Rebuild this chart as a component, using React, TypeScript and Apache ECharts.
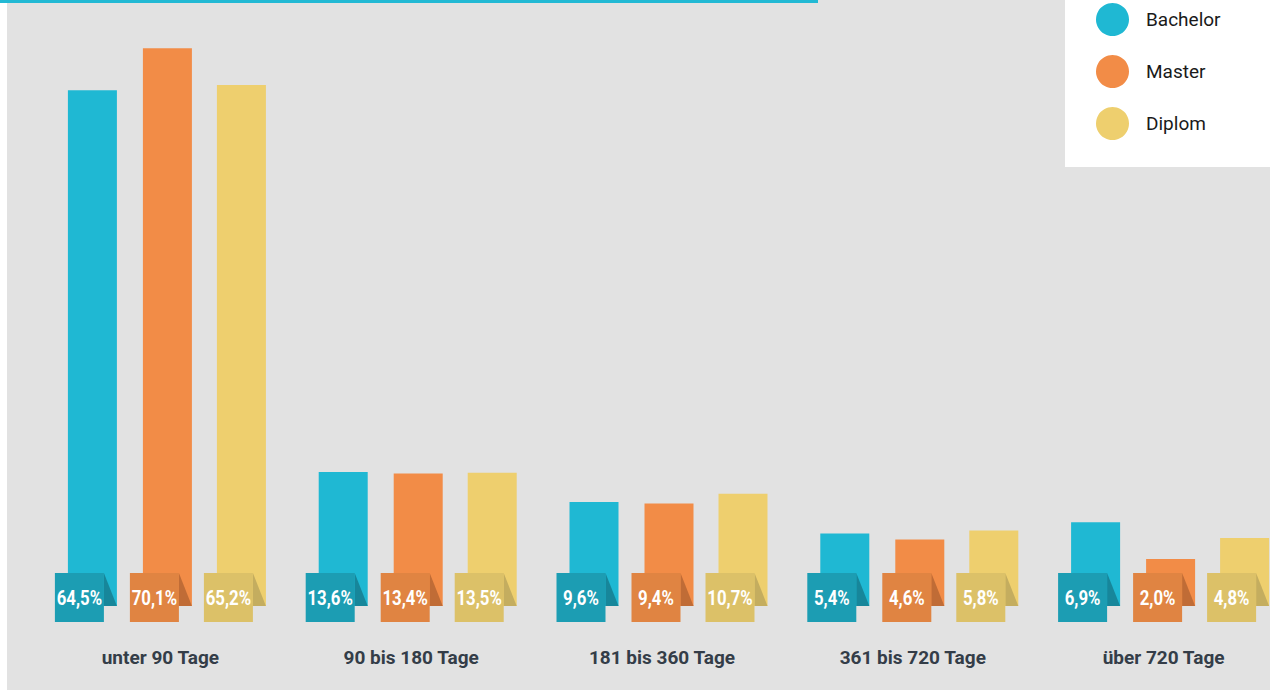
import React, { useEffect, useRef } from "react";
import * as echarts from "echarts";

const categories = ["unter 90 Tage", "90 bis 180 Tage", "181 bis 360 Tage", "361 bis 720 Tage", "über 720 Tage"];
const seriesNames = ["Bachelor", "Master", "Diplom"];
const bachelor = [64.5, 13.6, 9.6, 5.4, 6.9];
const master = [70.1, 13.4, 9.4, 4.6, 2.0];
const diplom = [65.2, 13.5, 10.7, 5.8, 4.8];

const barColors = ["#1fb8d3", "#f28c47", "#eecf6e"];
const boxColors = ["#1c9db3", "#e08442", "#dcc168"];
const foldColors = ["#17869a", "#c06c36", "#c4ad5f"];
const barOffsets = [-68, 7, 81];

const FONT = "Roboto, 'DejaVu Sans Condensed', sans-serif";

function fmt(v: number) {
  return v.toFixed(1).replace(".", ",") + "%";
}

export default function App() {
  const ref = useRef<HTMLDivElement>(null);
  useEffect(() => {
    if (!ref.current) return;
    const chart = echarts.init(ref.current, null, { renderer: "svg" });
    const allData = [bachelor, master, diplom];
    const renderItem = (params: any, api: any) => {
      const idx = params.seriesIndex;
      const cat = api.value(0);
      const val = api.value(1);
      const top = api.coord([cat, val]);
      const base = api.coord([cat, 0]);
      const cx = base[0] + barOffsets[idx];
      const barW = 49;
      const barLeft = cx - barW / 2;
      const barRight = cx + barW / 2;
      const barBottom = base[1] + 32;
      const boxLeft = barLeft - 13;
      const boxSize = 49;
      const boxRight = boxLeft + boxSize;
      const boxTop = base[1] - 1;
      return {
        type: "group",
        children: [
          {
            type: "rect",
            shape: { x: barLeft, y: top[1], width: barW, height: barBottom - top[1] },
            style: { fill: barColors[idx] },
          },
          {
            type: "polygon",
            shape: { points: [[boxRight, boxTop], [barRight, barBottom], [boxRight, barBottom]] },
            style: { fill: foldColors[idx] },
          },
          {
            type: "rect",
            shape: { x: boxLeft, y: boxTop, width: boxSize, height: boxSize },
            style: { fill: boxColors[idx] },
          },
          {
            type: "text",
            x: boxLeft + boxSize / 2,
            y: boxTop + boxSize / 2,
            scaleX: 0.8,
            style: {
              text: fmt(val),
              fill: "#ffffff",
              font: "bold 21px " + FONT,
              align: "center",
              verticalAlign: "middle",
            },
          },
        ],
      };
    };
    chart.setOption({
      animation: false,
      backgroundColor: "#ffffff",
      graphic: [
        { type: "rect", z: -10, shape: { x: 7, y: 0, width: 1263, height: 690 }, style: { fill: "#e2e2e2" } },
        { type: "rect", z: 10, shape: { x: 0, y: 0, width: 818, height: 3 }, style: { fill: "#22b9d4" } },
      ],
      legend: {
        data: seriesNames,
        orient: "vertical",
        left: 1065,
        top: 0,
        icon: "circle",
        itemWidth: 33,
        itemHeight: 33,
        itemGap: 19,
        padding: [3, 80, 27, 31],
        backgroundColor: "#ffffff",
        borderRadius: 0,
        textStyle: {
          fontFamily: "Roboto, sans-serif",
          fontSize: 19,
          color: "#1a1a1a",
          padding: [0, 0, 0, 12],
        },
        selectedMode: false,
      },
      grid: { left: 35, top: 4, width: 1254, height: 570, outerBoundsMode: "none", containLabel: false },
      xAxis: {
        type: "category",
        data: categories,
        axisLine: { show: false },
        axisTick: { show: false },
        axisLabel: {
          margin: 74,
          fontFamily: FONT,
          fontWeight: "bold",
          fontSize: 19,
          color: "#343d48",
        },
      },
      yAxis: { type: "value", min: 0, max: 76, show: false },
      series: seriesNames.map((name, i) => ({
        name,
        type: "custom",
        clip: false,
        itemStyle: { color: barColors[i] },
        encode: { x: 0, y: 1 },
        data: allData[i].map((v, j) => [j, v]),
        renderItem,
      })),
    });
    return () => chart.dispose();
  }, []);
  return (
    <div
      ref={ref}
      style={{ position: "absolute", left: 0, top: 0, width: 1270, height: 691 }}
    />
  );
}
